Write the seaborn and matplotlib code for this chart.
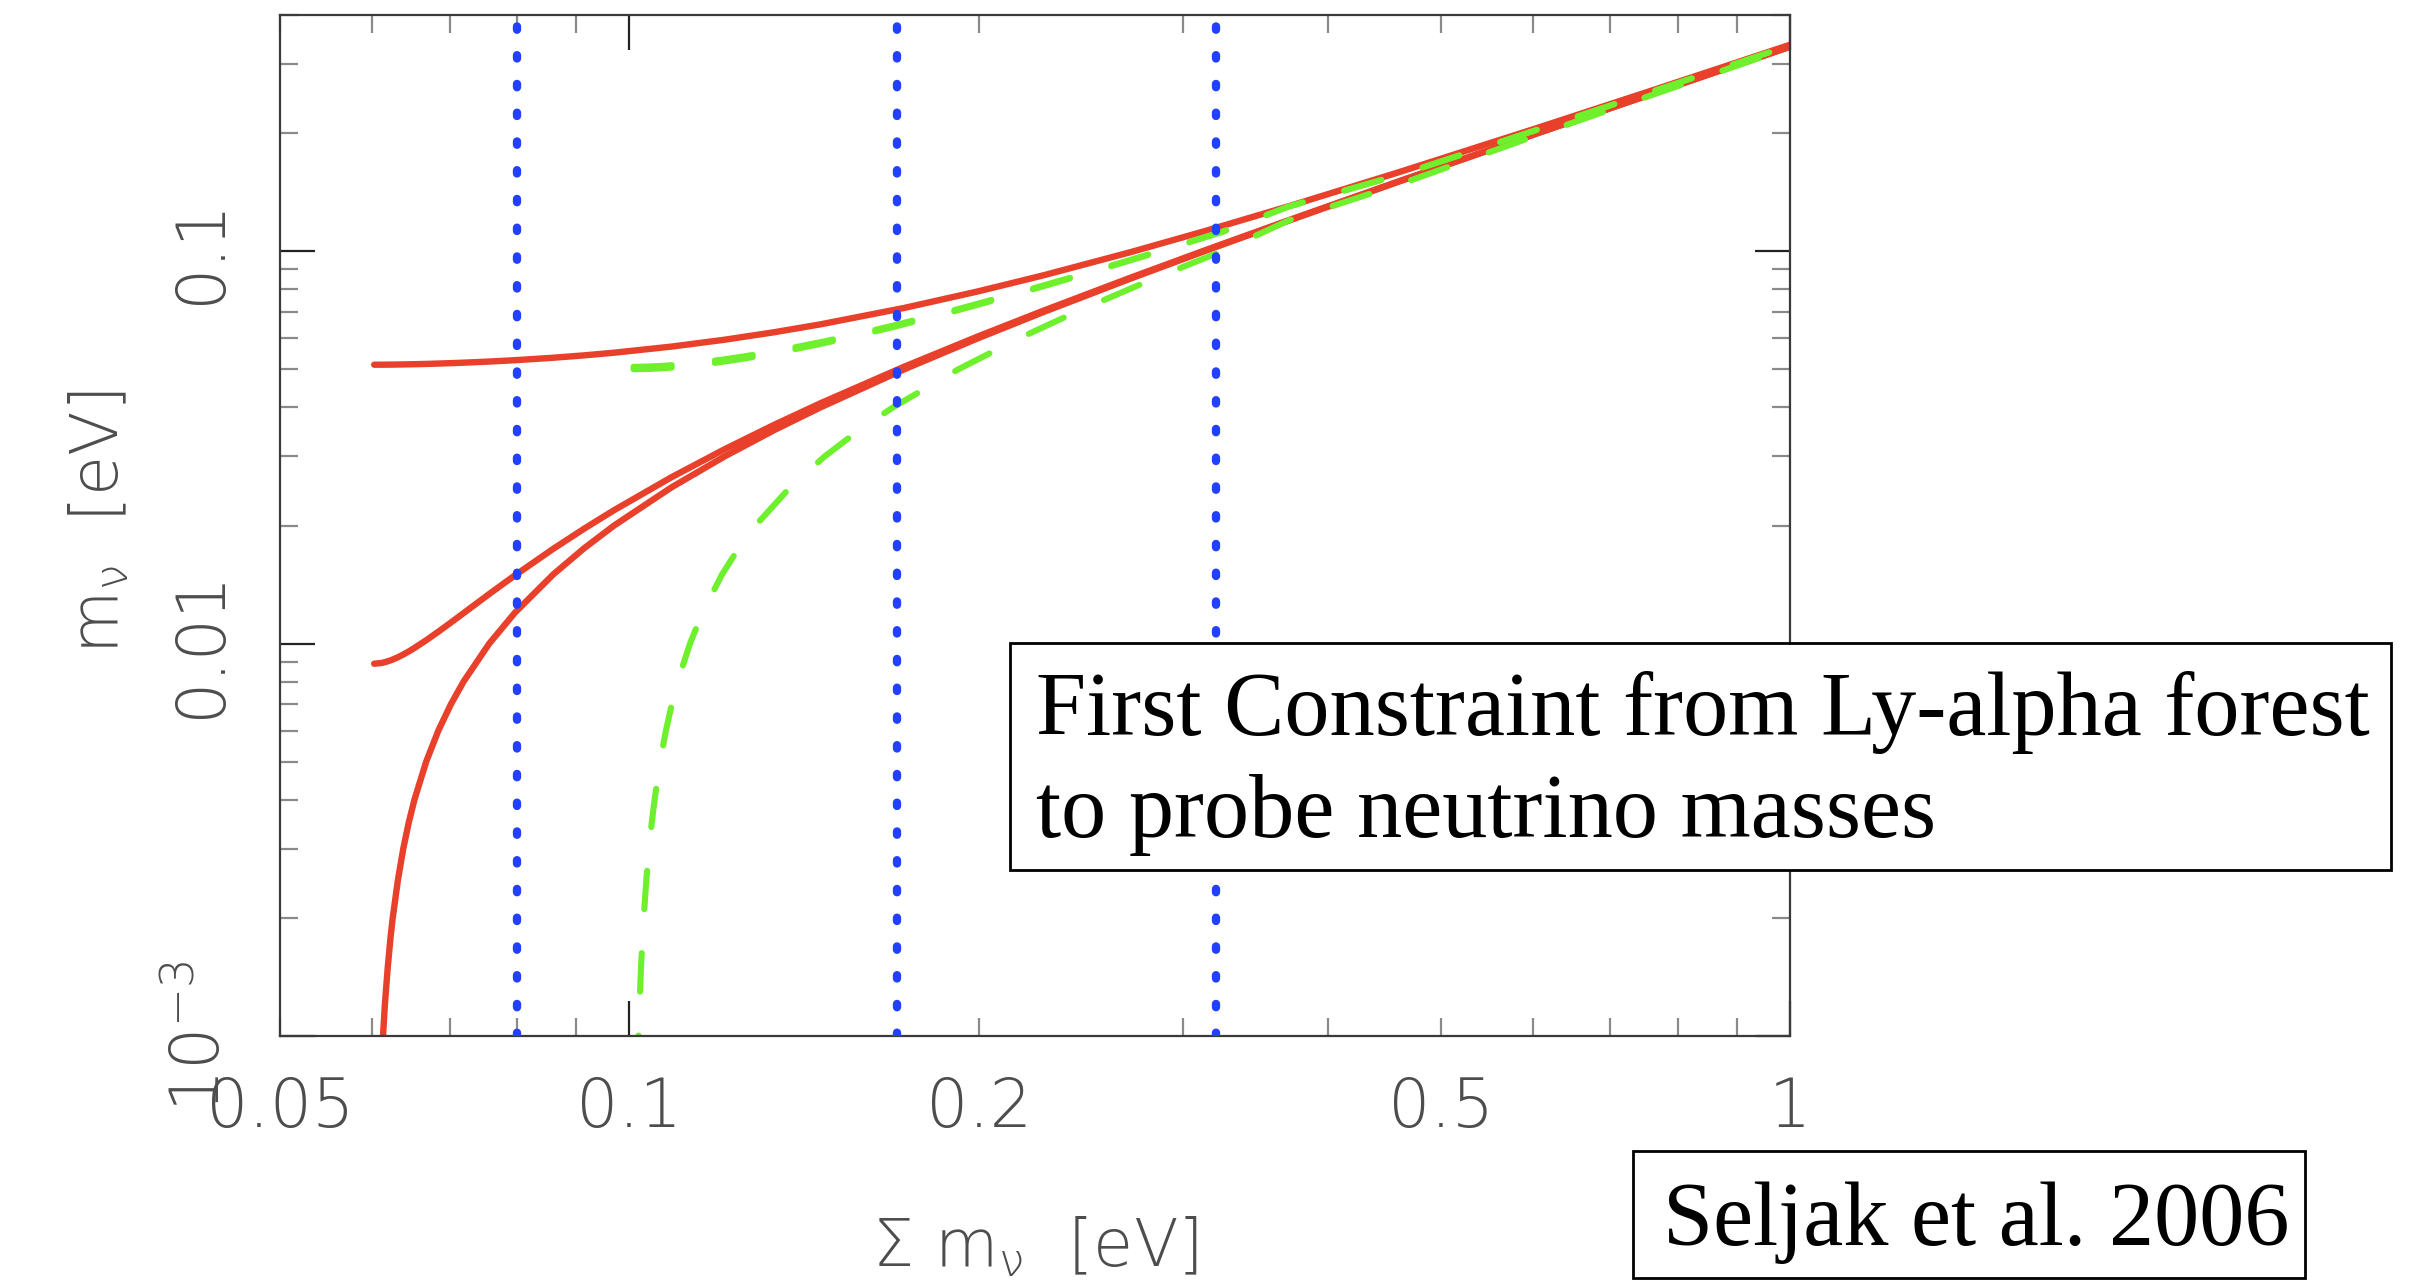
import numpy as np
import pandas as pd
import matplotlib
matplotlib.use("Agg")
import matplotlib.pyplot as plt
from matplotlib import ticker
from matplotlib.patches import Rectangle
import seaborn as sns

# ---------------------------------------------------------------
# Individual neutrino masses versus the summed mass [eV]
# ---------------------------------------------------------------
# Normal hierarchy (m1 lightest)
nh_sum = [0.06027, 0.06111, 0.06134, 0.06156, 0.06192, 0.06228, 0.06253,
          0.06318, 0.06385, 0.06455, 0.06528, 0.06682, 0.06845, 0.07017,
          0.07196, 0.07572, 0.07970, 0.08596, 0.09141, 0.09702, 0.10867,
          0.12079, 0.13328, 0.14609, 0.17248, 0.19965, 0.22740, 0.26979,
          0.31282, 0.37087, 0.45882, 0.60669, 0.75538, 0.90450, 1.02398]
nh_m1 = [0.0, 0.0008, 0.001, 0.0012, 0.0015, 0.0018, 0.002,
         0.0025, 0.003, 0.0035, 0.004, 0.005, 0.006, 0.007,
         0.008, 0.01, 0.012, 0.015, 0.0175, 0.02, 0.025,
         0.03, 0.035, 0.04, 0.05, 0.06, 0.07, 0.085,
         0.1, 0.12, 0.15, 0.2, 0.25, 0.3, 0.34]
nh_m2 = [0.008888, 0.008924, 0.008944, 0.008969, 0.009014, 0.009069, 0.009110,
         0.009233, 0.009381, 0.009552, 0.009747, 0.010198, 0.010724, 0.011314,
         0.011958, 0.013379, 0.014933, 0.017436, 0.019628, 0.021886, 0.026533,
         0.031289, 0.036111, 0.040976, 0.050784, 0.060655, 0.070562, 0.085464,
         0.100394, 0.120329, 0.150263, 0.200197, 0.250158, 0.300132, 0.340116]
nh_m3 = [0.051381, 0.051387, 0.051391, 0.051395, 0.051403, 0.051413, 0.051420,
         0.051442, 0.051468, 0.051500, 0.051536, 0.051624, 0.051730, 0.051856,
         0.052000, 0.052345, 0.052764, 0.053526, 0.054280, 0.055136, 0.057140,
         0.059498, 0.062169, 0.065115, 0.071694, 0.078994, 0.086833, 0.099323,
         0.112428, 0.130537, 0.158556, 0.206495, 0.255225, 0.304368, 0.343861]

# Inverted hierarchy (m3 lightest)
ih_sum = [0.10080, 0.10161, 0.10182, 0.10203, 0.10234, 0.10266, 0.10288,
          0.10342, 0.10398, 0.10454, 0.10512, 0.10629, 0.10751, 0.10877,
          0.11006, 0.11277, 0.11562, 0.12017, 0.12420, 0.12845, 0.13752,
          0.14731, 0.15772, 0.16869, 0.19199, 0.21672, 0.24251, 0.28264,
          0.32397, 0.37031, 0.46648, 0.61251, 0.76006, 0.90841, 1.02743]
ih_m3 = [0.0, 0.0008, 0.001, 0.0012, 0.0015, 0.0018, 0.002,
         0.0025, 0.003, 0.0035, 0.004, 0.005, 0.006, 0.007,
         0.008, 0.01, 0.012, 0.015, 0.0175, 0.02, 0.025,
         0.03, 0.035, 0.04, 0.05, 0.06, 0.07, 0.085,
         0.1, 0.12, 0.15, 0.2, 0.25, 0.3, 0.34]
ih_m1 = [0.050000, 0.050006, 0.050010, 0.050014, 0.050022, 0.050032, 0.050040,
         0.050062, 0.050090, 0.050122, 0.050160, 0.050249, 0.050359, 0.050488,
         0.050636, 0.050990, 0.051420, 0.052202, 0.052974, 0.053852, 0.055902,
         0.058310, 0.061033, 0.064031, 0.070711, 0.078102, 0.086023, 0.098615,
         0.111803, 0.130000, 0.158114, 0.206155, 0.254951, 0.304138, 0.343657]
ih_m2 = [0.050800, 0.050806, 0.050810, 0.050814, 0.050822, 0.050832, 0.050839,
         0.050862, 0.050888, 0.050921, 0.050957, 0.051045, 0.051153, 0.051280,
         0.051426, 0.051775, 0.052198, 0.052968, 0.053730, 0.054595, 0.056618,
         0.058997, 0.061690, 0.064657, 0.071278, 0.078617, 0.086491, 0.099023,
         0.112163, 0.130310, 0.158369, 0.206351, 0.255109, 0.304271, 0.343774]

# Vertical reference sums [eV]
ref_sums = [0.080, 0.170, 0.320]

# Axis ticks and labels
x_major = [0.1, 1.0]
x_major_labels = ["0.1", "1"]
x_minor = [0.05, 0.06, 0.07, 0.08, 0.09, 0.2, 0.3, 0.4, 0.5, 0.6, 0.7, 0.8, 0.9]
x_minor_labels = ["0.05", "", "", "", "", "0.2", "", "", "0.5", "", "", "", ""]
y_major = [0.001, 0.01, 0.1]
y_major_labels = [r"$10^{-3}$", "0.01", "0.1"]

RED = "#e8402a"
GREEN = "#6ef02c"
BLUE = "#2140ff"
GREY = "#4d4d4d"

sns.set_style("ticks")
plt.rcParams.update({
    "font.family": ["DejaVu Sans"],
    "font.weight": "light",
    "axes.labelweight": "light",
    "mathtext.fontset": "custom",
    "mathtext.rm": "DejaVu Sans:weight=light",
    "mathtext.it": "DejaVu Sans:weight=light",
    "mathtext.bf": "DejaVu Sans:weight=bold",
    "axes.edgecolor": "#3a3a3a",
    "axes.linewidth": 1.6,
})

fig = plt.figure(figsize=(24.14, 12.88), dpi=100, facecolor="white")
ax = fig.add_axes([0.11599, 0.19565, 0.62552, 0.79270])
ax.set_xscale("log")
ax.set_yscale("log")

nh = pd.DataFrame({"sum": nh_sum, "m1": nh_m1, "m2": nh_m2, "m3": nh_m3})
ih = pd.DataFrame({"sum": ih_sum, "m1": ih_m1, "m2": ih_m2, "m3": ih_m3})

line_kw = dict(sort=False, estimator=None, legend=False, ax=ax)

# Normal hierarchy: solid red
for col in ["m3", "m2"]:
    sns.lineplot(data=nh, x="sum", y=col, color=RED, linewidth=4.6,
                 solid_capstyle="round", solid_joinstyle="round", **line_kw)
nh_light = nh[nh["m1"] > 0]
sns.lineplot(data=nh_light, x="sum", y="m1", color=RED, linewidth=4.6,
             solid_capstyle="round", solid_joinstyle="round", **line_kw)

# Inverted hierarchy: dashed green
for col in ["m1", "m2"]:
    sns.lineplot(data=ih, x="sum", y=col, color=GREEN, linewidth=4.2,
                 linestyle=(0, (6.6, 7.4)), dash_capstyle="round", **line_kw)
ih_light = ih[ih["m3"] > 0]
sns.lineplot(data=ih_light, x="sum", y="m3", color=GREEN, linewidth=4.4,
             linestyle=(0, (6.3, 7.2)), dash_capstyle="round", **line_kw)

# Dotted blue markers at the reference sums
for xv in ref_sums:
    ax.axvline(xv, color=BLUE, linewidth=6.0, linestyle=(0, (0.4, 3.05)),
               dash_capstyle="round", zorder=3)

ax.set_xlim(0.05, 1.0)
ax.set_ylim(0.001, 0.40)

ax.set_xticks(x_major, labels=x_major_labels)
ax.set_xticks(x_minor, labels=x_minor_labels, minor=True)
ax.set_yticks(y_major, labels=y_major_labels, rotation=90, va="center")
ax.yaxis.set_minor_locator(ticker.LogLocator(base=10, subs=np.arange(2, 10)))
ax.yaxis.set_minor_formatter(ticker.NullFormatter())

ax.tick_params(which="both", direction="in", top=True, right=True)
ax.tick_params(which="major", length=25, width=1.6, color="#222222")
ax.tick_params(which="minor", length=13, width=1.6, color="#8a8a8a")
ax.tick_params(axis="x", which="both", labelsize=48, pad=28, labelcolor=GREY)
ax.tick_params(axis="y", which="both", labelsize=48, pad=33, labelcolor=GREY)

ax.set_xlabel(r"$\Sigma\ \mathrm{m}_{\nu}$  [eV]", fontsize=47, color=GREY,
              fontweight="light")
ax.xaxis.set_label_coords(0.5, -0.2076)
ax.xaxis.label.set_va("center")
ax.set_ylabel(r"$\mathrm{m}_{\nu}$  [eV]", fontsize=47, color=GREY,
              fontweight="light")
ax.yaxis.set_label_coords(-0.1192, 0.503)
ax.yaxis.label.set_va("center")

# Annotation boxes
serif = ["Liberation Serif", "DejaVu Serif"]
box1 = Rectangle((0.41839, 0.32453), 0.57208, 0.17624, transform=fig.transFigure,
                 facecolor="white", edgecolor="black", linewidth=2.0, zorder=5)
fig.add_artist(box1)
fig.text(0.42916, 0.42935, "First Constraint from Ly-alpha forest", fontsize=65,
         family=serif, weight="normal", color="black", ha="left", va="baseline", zorder=6)
fig.text(0.42916, 0.35016, "to probe neutrino masses", fontsize=65,
         family=serif, weight="normal", color="black", ha="left", va="baseline", zorder=6)

box2 = Rectangle((0.67647, 0.00776), 0.27838, 0.09860, transform=fig.transFigure,
                 facecolor="white", edgecolor="black", linewidth=2.0, zorder=5)
fig.add_artist(box2)
fig.text(0.68890, 0.03339, "Seljak et al. 2006", fontsize=65,
         family=serif, weight="normal", color="black", ha="left", va="baseline", zorder=6)

fig.savefig("out.png", dpi=100, facecolor="white")
